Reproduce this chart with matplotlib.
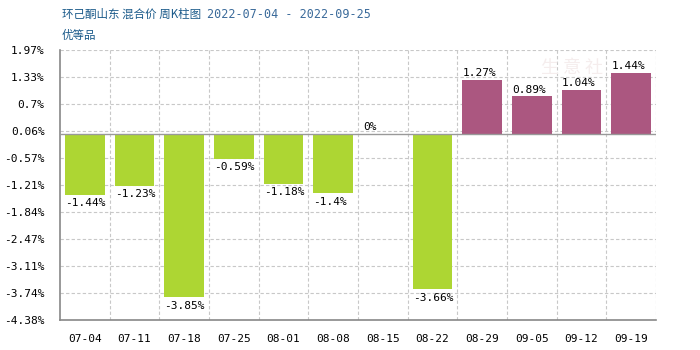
import matplotlib
matplotlib.use("Agg")
import matplotlib.pyplot as plt
import numpy as np

weeks = ["07-04", "07-11", "07-18", "07-25", "08-01", "08-08",
         "08-15", "08-22", "08-29", "09-05", "09-12", "09-19"]
changes = [-1.44, -1.23, -3.85, -0.59, -1.18, -1.4, 0, -3.66, 1.27, 0.89, 1.04, 1.44]
labels = ["-1.44%", "-1.23%", "-3.85%", "-0.59%", "-1.18%", "-1.4%",
          "0%", "-3.66%", "1.27%", "0.89%", "1.04%", "1.44%"]
yticks = [1.97, 1.33, 0.7, 0.06, -0.57, -1.21, -1.84, -2.47, -3.11, -3.74, -4.38]
ytick_labels = ["1.97%", "1.33%", "0.7%", "0.06%", "-0.57%", "-1.21%",
                "-1.84%", "-2.47%", "-3.11%", "-3.74%", "-4.38%"]

UP = "#ab5780"
DOWN = "#add633"
MONO = "DejaVu Sans Mono"
CJK = ["Noto Sans CJK SC", "DejaVu Sans"]

fig = plt.figure(figsize=(7, 3.5), dpi=100)
ax = fig.add_axes([60 / 700, 30 / 350, 596 / 700, 270 / 350])

x = np.arange(len(weeks))
colors = [UP if v > 0 else DOWN for v in changes]
bw = 0.8
ax.bar(x, changes, width=bw, color=colors, zorder=3)

ax.set_xlim(-0.5, len(weeks) - 0.5)
ax.set_ylim(min(yticks), max(yticks))

# grid
for b in np.arange(0.5, len(weeks) - 0.5, 1.0):
    ax.axvline(b, color="#c8c8c8", ls=(0, (3, 2)), lw=0.8, zorder=1)
ax.axvline(len(weeks) - 0.5, color="#c8c8c8", ls=(0, (3, 2)), lw=0.8, zorder=1)
for t in yticks:
    ax.axhline(t, color="#c8c8c8", ls=(0, (3, 2)), lw=0.8, zorder=1)
ax.axhline(0, color="#999999", lw=1.0, zorder=4)

for s in ["top", "right"]:
    ax.spines[s].set_visible(False)
for s in ["left", "bottom"]:
    ax.spines[s].set_color("#888888")
    ax.spines[s].set_linewidth(1.2)

ax.set_yticks(yticks)
ax.set_yticklabels(ytick_labels, fontsize=8, family=MONO)
ax.set_xticks(x)
ax.set_xticklabels(weeks, fontsize=8, family=MONO)
ax.tick_params(length=0)
ax.tick_params(axis="y", pad=11)
ax.tick_params(axis="x", pad=10)

for xi, v, lab in zip(x, changes, labels):
    if v < 0:
        ax.text(xi - bw / 2, v - 0.08, lab, ha="left", va="top",
                fontsize=8, family=MONO, zorder=5)
    else:
        ax.text(xi - bw / 2, v + 0.03, lab, ha="left", va="bottom",
                fontsize=8, family=MONO, zorder=5)

# faint watermark
ax.text(9.8, 1.55, "生 意 社", fontsize=13, color="#f5eded", family=CJK,
        ha="center", va="center", zorder=2)

title = fig.text(62 / 700, 1 - 14 / 350, "环己酮山东 混合价 周K柱图", fontsize=8.3,
                 color="#1a5a8a", family=CJK, va="center")
fig.canvas.draw()
ext = title.get_window_extent()
fig.text((ext.x1 + 6) / 700, 1 - 14 / 350, "2022-07-04 - 2022-09-25", fontsize=8.5,
         color="#3a6a9a", family=MONO, va="center")
fig.text(62 / 700, 1 - 36 / 350, "优等品", fontsize=8.3,
         color="#1a5a8a", family=CJK, va="center")

fig.savefig("out.png", dpi=100)
